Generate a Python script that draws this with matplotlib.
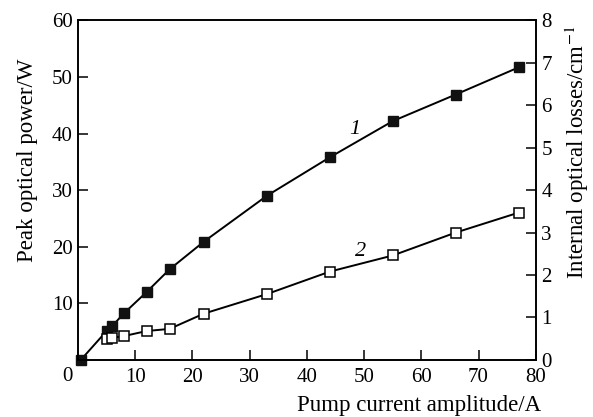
import matplotlib.pyplot as plt

plt.rcParams['font.family'] = ['Liberation Serif', 'DejaVu Serif']
plt.rcParams['mathtext.fontset'] = 'stix'

# curve 1: peak optical power (W)
current_1 = [0.5, 5, 6, 8, 12, 16, 22, 33, 44, 55, 66, 77]
power = [0.0, 5.1, 6.0, 8.2, 12.0, 16.0, 20.9, 29.0, 35.8, 42.2, 46.9, 51.7]

# curve 2: internal optical losses (cm^-1)
current_2 = [5, 6, 8, 12, 16, 22, 33, 44, 55, 66, 77]
losses = [0.50, 0.52, 0.56, 0.68, 0.73, 1.09, 1.55, 2.08, 2.46, 3.00, 3.47]

x_ticks = [10, 20, 30, 40, 50, 60, 70, 80]
left_ticks = [10, 20, 30, 40, 50, 60]
right_ticks = [0, 1, 2, 3, 4, 5, 6, 7, 8]

fig = plt.figure(figsize=(5.93, 4.17), dpi=100)
ax = fig.add_axes([0.1315, 0.137, 0.772, 0.814])
ax2 = ax.twinx()

ax.plot(current_1, power, color='black', lw=1.4, marker='s', ms=6.6,
        mfc='#111111', mec='#111111', clip_on=False, zorder=3)
ax2.plot(current_2, losses, color='black', lw=1.4, marker='s', ms=6.6,
         mfc='white', mec='black', mew=1.1, clip_on=False, zorder=3)

ax.set_xlim(0, 80)
ax.set_ylim(0, 60)
ax2.set_ylim(0, 8)

ax.set_xticks(x_ticks)
ax.set_yticks(left_ticks)
ax2.set_yticks(right_ticks)

for a in (ax, ax2):
    for s in a.spines.values():
        s.set_linewidth(1.2)
ax.tick_params(direction='in', length=7, width=1.1, labelsize=15, pad=4)
ax.tick_params(axis='x', pad=6)
ax2.tick_params(direction='in', length=7, width=1.1, labelsize=15, pad=4)

# lone "0" at the lower-left corner
ax.text(-0.012, -0.05, '0', transform=ax.transAxes, fontsize=15,
        ha='right', va='center')

fig.text(0.047, 0.615, 'Peak optical power/W', fontsize=16.5,
         rotation=90, ha='center', va='center')
fig.text(0.973, 0.635, 'Internal optical losses/cm$^{-1}$', fontsize=16.5,
         rotation=90, ha='center', va='center')
fig.text(0.912, 0.028, 'Pump current amplitude/A', fontsize=16.5,
         ha='right', va='center')

ax.text(48.3, 40.8, '1', fontsize=16, style='italic', ha='center', va='center')
ax.text(49.3, 19.2, '2', fontsize=16, style='italic', ha='center', va='center')

plt.savefig('out.png', dpi=100)
